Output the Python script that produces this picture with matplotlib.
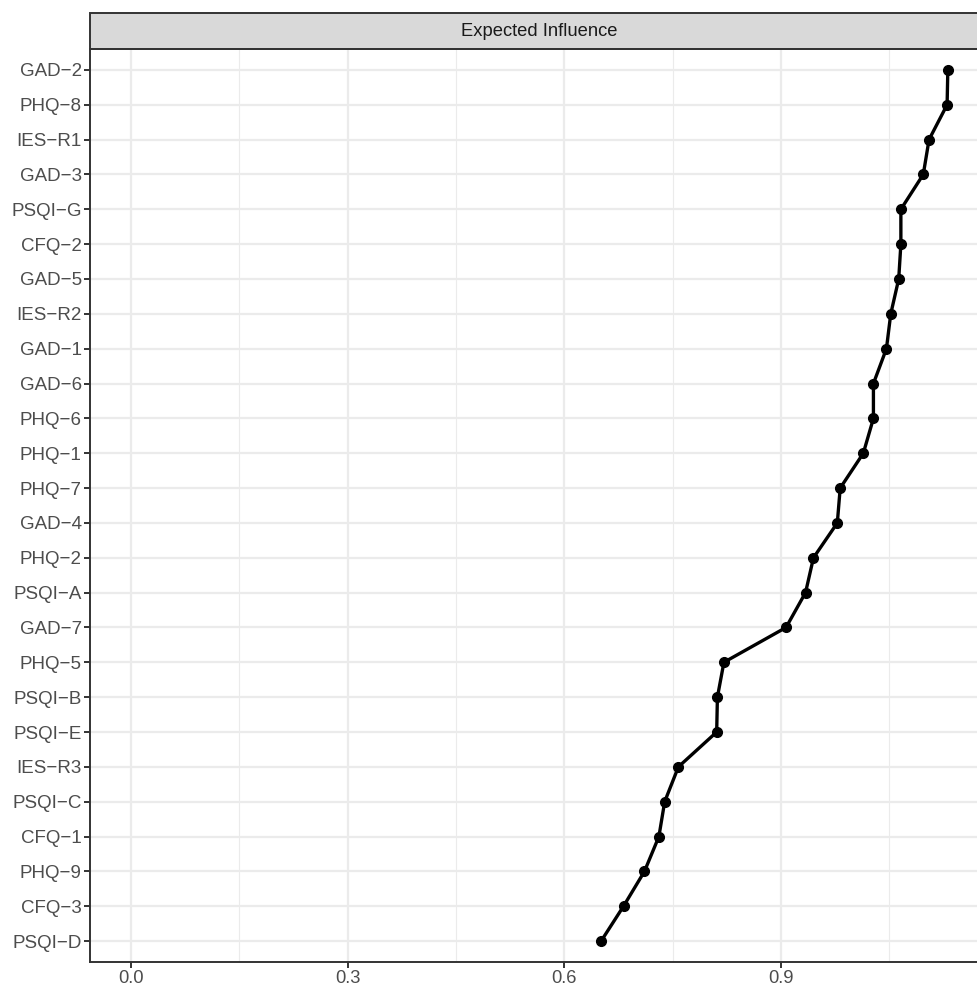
import matplotlib.pyplot as plt
from matplotlib.patches import Rectangle

plt.rcParams["font.family"] = ["Liberation Sans", "DejaVu Sans"]

# nodes, top to bottom
nodes = ["GAD-2", "PHQ-8", "IES-R1", "GAD-3", "PSQI-G", "CFQ-2", "GAD-5",
         "IES-R2", "GAD-1", "GAD-6", "PHQ-6", "PHQ-1", "PHQ-7", "GAD-4",
         "PHQ-2", "PSQI-A", "GAD-7", "PHQ-5", "PSQI-B", "PSQI-E", "IES-R3",
         "PSQI-C", "CFQ-1", "PHQ-9", "CFQ-3", "PSQI-D"]
expected_influence = [1.131, 1.130, 1.105, 1.097, 1.066, 1.066, 1.063,
                      1.052, 1.046, 1.028, 1.028, 1.014, 0.982, 0.978,
                      0.945, 0.934, 0.907, 0.821, 0.812, 0.811, 0.758,
                      0.739, 0.731, 0.711, 0.682, 0.651]
x_ticks = [0.0, 0.3, 0.6, 0.9]
x_minor = [0.15, 0.45, 0.75, 1.05]

W, H = 977, 988
fig = plt.figure(figsize=(W / 100, H / 100), dpi=100)
left, right, top, bottom = 90, 989, 49, 962
ax = fig.add_axes([left / W, 1 - bottom / H, (right - left) / W, (bottom - top) / H])

n = len(nodes)
ypos = list(range(n - 1, -1, -1))
labels = [s.replace("-", "\u2212") for s in nodes]

for x in x_ticks:
    ax.axvline(x, color="#ebebeb", lw=1.6, zorder=0)
for x in x_minor:
    ax.axvline(x, color="#ebebeb", lw=0.8, zorder=0)
for y in ypos:
    ax.axhline(y, color="#ebebeb", lw=1.6, zorder=0)

ax.plot(expected_influence, ypos, color="black", lw=2.4, marker="o",
        markersize=7, zorder=3, clip_on=False)

ax.set_xlim(-0.0566, 1.188)
ax.set_ylim(-0.6, n - 1 + 0.6)
ax.set_xticks(x_ticks)
ax.set_xticklabels([f"{v:.1f}" for v in x_ticks])
ax.set_yticks(ypos)
ax.set_yticklabels(labels)
ax.tick_params(axis="both", length=4, width=1.4, color="#333333",
               labelcolor="#4d4d4d", labelsize=13.2, pad=2)
ax.tick_params(axis="y", labelsize=13.5)
for s in ax.spines.values():
    s.set_color("#333333")
    s.set_linewidth(1.4)

# facet strip
strip_h = (top - 13) / (bottom - top)
ax.add_patch(Rectangle((0, 1), 1, strip_h, transform=ax.transAxes,
                       facecolor="#d9d9d9", edgecolor="#333333", lw=1.4,
                       clip_on=False))
ax.text(0.5, 1 + strip_h / 2, "Expected Influence", transform=ax.transAxes,
        ha="center", va="center", fontsize=13.2, color="#1a1a1a")

fig.savefig("out.png", dpi=100)
